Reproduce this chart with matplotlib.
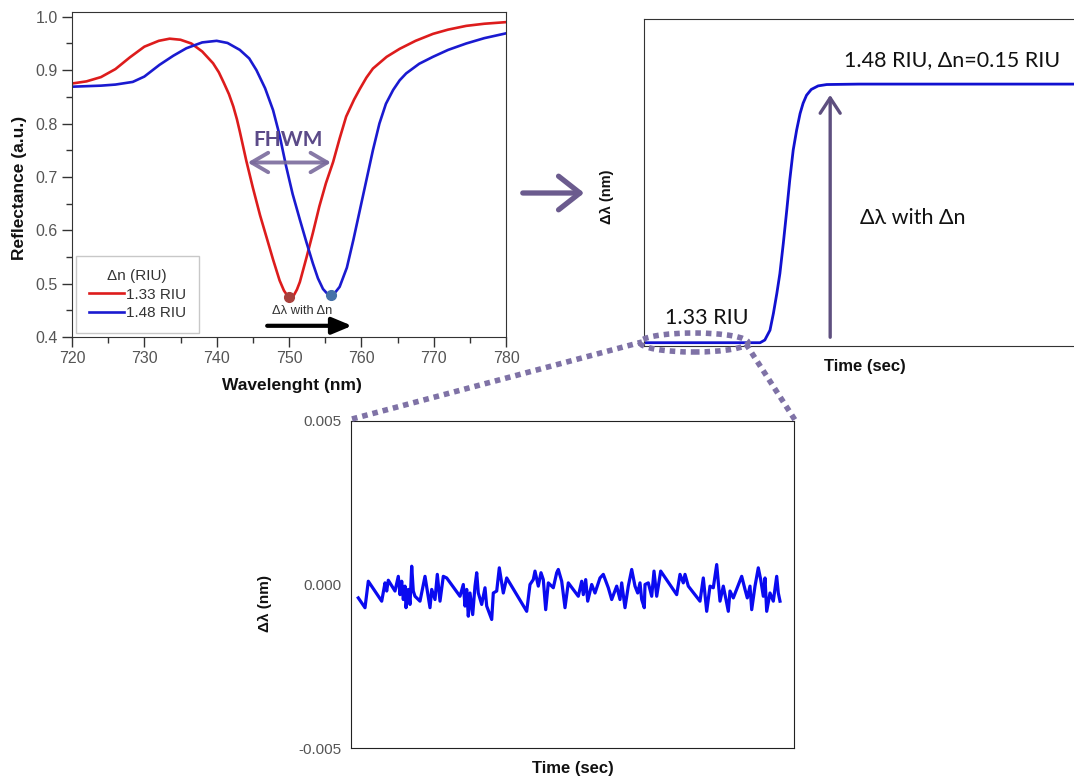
import numpy as np
import matplotlib
matplotlib.use("Agg")
from matplotlib import pyplot as plt
from matplotlib.lines import Line2D
from matplotlib.patches import Ellipse, FancyArrowPatch

plt.rcParams['font.family'] = ['Liberation Sans', 'DejaVu Sans']

# --- reflectance spectra (panel 1) ---
wl_133 = [720, 722, 724, 726, 728, 730, 732, 733.5, 735, 736.5, 738, 739.5, 740.3, 741,
          741.7, 742.3, 742.8, 743.2, 744.1, 745, 746, 747, 747.8, 748.7, 749.3, 749.8,
          750.2, 750.7, 751.1, 751.5, 752.4, 753.3, 754.2, 755.1, 756.1, 757, 757.9, 759,
          759.8, 760.7, 761.6, 763.5, 765.3, 767.5, 769.9, 772, 774.5, 777, 780]
refl_133 = [0.875, 0.879, 0.887, 0.902, 0.924, 0.944, 0.955, 0.959, 0.957, 0.950, 0.935,
            0.913, 0.896, 0.876, 0.855, 0.832, 0.808, 0.785, 0.730, 0.680, 0.628, 0.582,
            0.545, 0.506, 0.487, 0.477, 0.475, 0.479, 0.489, 0.503, 0.548, 0.595, 0.645,
            0.688, 0.728, 0.772, 0.813, 0.845, 0.865, 0.886, 0.903, 0.925, 0.940, 0.955,
            0.968, 0.976, 0.983, 0.987, 0.990]

wl_148 = [720, 722, 724, 726, 728.4, 730, 732.1, 734, 735.8, 738, 740, 741.5, 743.2, 744.5,
          745.5, 746.7, 747.8, 748.7, 749.6, 750.5, 751.5, 752.4, 753.3, 754, 754.7, 755.3,
          755.8, 756.3, 757, 758, 758.9, 759.8, 760.7, 761.6, 762.5, 763.4, 764.4, 765.3,
          766.2, 768, 769.9, 772, 774.5, 777, 780]
refl_148 = [0.869, 0.870, 0.871, 0.873, 0.878, 0.888, 0.910, 0.927, 0.941, 0.952, 0.955,
            0.951, 0.938, 0.922, 0.900, 0.866, 0.825, 0.778, 0.720, 0.668, 0.620, 0.578,
            0.538, 0.510, 0.490, 0.481, 0.479, 0.482, 0.494, 0.530, 0.582, 0.638, 0.694,
            0.750, 0.800, 0.837, 0.863, 0.881, 0.894, 0.912, 0.925, 0.938, 0.950, 0.960,
            0.969]

dip_wl = [750.0, 755.8]
dip_refl = [0.475, 0.478]

# --- sensorgram step (panel 2), arbitrary time units ---
step_t = [0, 10, 20, 27.0, 28.1, 29.3, 30.1, 30.9, 31.6, 32.4, 33.2, 33.9, 34.7, 35.5,
          36.3, 37.0, 37.8, 38.9, 40.5, 42.5, 50, 70, 100]
step_shift = [0, 0, 0, 0, 0.06, 0.28, 0.66, 1.11, 1.55, 2.23, 2.97, 3.65, 4.32, 4.77,
              5.14, 5.37, 5.55, 5.68, 5.76, 5.79, 5.80, 5.80, 5.80]

# --- baseline noise (panel 3), shift in units of 1e-4 nm ---
noise_t = [7.3, 14, 17.3, 30.7, 34, 35.7, 37.3, 44, 47.3, 49, 50.7, 52.3, 54, 55, 57.3, 59,
           60.7, 62.3, 64, 69, 74, 79, 80.7, 84, 86.3, 89, 92.3, 95.7, 109, 112.3, 114,
           115.7, 117.3, 119, 121.7, 124, 125.7, 127.3, 130.7, 134, 135.7, 140.7, 142.3,
           145.7, 148.3, 152.3, 155.7, 175.7, 179, 182.3, 184, 187.3, 190, 192.3, 194.7,
           197.3, 202.3, 205.7, 207.3, 210.7, 214, 217.3, 227.3, 230.7, 232.3, 234.7,
           236.7, 240.7, 244, 249, 252.3, 257.3, 260.7, 265.7, 269, 270.7, 274, 277.3,
           280.7, 284, 286.7, 289, 290.7, 293.3, 294, 297.3, 300.7, 303, 305.7, 309.7,
           325.7, 329, 332.3, 334, 337.3, 349, 352.3, 355.7, 359, 362.3, 365.7, 369, 372.3,
           375, 377.3, 379, 382.3, 390.7, 394, 396.3, 399, 400.7, 404, 407.3, 409.7,
           412.3, 414, 415.7, 419, 422.3, 425.7, 427.3, 429]
noise_v = [-4.1, -7.1, 1.0, -5.1, 0.5, -2.0, 1.3, -2.0, 2.5, -3.1, 1.0, -4.6, -0.5, -7.1,
           -1.5, -6.1, 5.6, -2.0, -3.6, -5.1, 2.5, -7.1, -1.5, -4.6, 3.1, -5.1, 2.5, 2.0,
           -3.6, 0.0, -6.6, -1.5, -9.7, -2.6, -9.2, -0.5, 3.6, -2.6, -6.1, -1.0, -6.6,
           -10.7, -2.6, -2.0, 5.1, -2.6, 2.0, -8.2, 0.0, 1.5, 4.1, -0.5, 3.6, 1.5, -7.7,
           0.5, -1.0, 3.6, 4.6, 1.0, -7.1, 0.5, -3.6, 1.0, -3.1, 1.5, -5.1, 0.0, -2.6, 2.0,
           3.1, -1.0, -4.6, -0.5, -4.6, 0.5, -7.1, -0.5, 4.6, -0.5, -2.6, 0.5, -4.6, -7.1,
           0.0, 0.5, -3.6, 4.1, -3.6, 4.1, -3.1, 3.1, 0.5, 3.1, -0.5, -5.1, 2.0, -8.2,
           -0.5, -1.0, 6.1, -5.1, -0.5, -4.6, -8.2, -2.0, -4.1, 2.5, -1.5, -4.1, -0.5,
           -7.7, -0.5, 5.1, 1.5, -3.6, 2.0, -8.2, -2.6, -5.1, 2.5, -2.6, -5.1]

W, H = 1074, 780
fig = plt.figure(figsize=(W / 100, H / 100), dpi=100)


def px_axes(l, t, r, b):
    return fig.add_axes([l / W, 1 - b / H, (r - l) / W, (b - t) / H])


def fx(x):
    return x / W


def fy(y):
    return 1 - y / H


purple = '#6b5b8e'
dots = '#7f72a6'
tick_grey = '#555555'

# ---------------- panel 1 ----------------
ax1 = px_axes(72, 12, 506, 337)
ax1.plot(wl_133, refl_133, color='#dd1c1c', lw=1.9, label='1.33 RIU')
ax1.plot(wl_148, refl_148, color='#1a1ad0', lw=1.9, label='1.48 RIU')
ax1.plot(dip_wl[0], dip_refl[0], 'o', color='#a8403c', ms=7, zorder=4)
ax1.plot(dip_wl[1], dip_refl[1], 'o', color='#4672a8', ms=7, zorder=4)
ax1.set_xlim(720, 780)
ax1.set_ylim(0.4, 1.009)
ax1.set_xticks(np.arange(720, 781, 10))
ax1.set_xticks(np.arange(725, 780, 10), minor=True)
ax1.set_yticks(np.arange(0.4, 1.01, 0.1))
ax1.set_yticks(np.arange(0.45, 1.0, 0.1), minor=True)
ax1.set_yticklabels(['0.4', '0.5', '0.6', '0.7', '0.8', '0.9', '1.0'])
ax1.tick_params(which='major', direction='out', length=7, width=1, labelsize=11.5,
                labelcolor=tick_grey, color='#333333', pad=3)
ax1.tick_params(which='minor', direction='out', length=4, width=1, color='#333333')
for s in ax1.spines.values():
    s.set_color('#333333')
ax1.text(0.507, -0.148, 'Wavelenght (nm)', transform=ax1.transAxes, ha='center',
         va='center', fontsize=12.5, fontweight='bold', color='#111111')
ax1.text(-0.12, 0.46, 'Reflectance (a.u.)', transform=ax1.transAxes, ha='center',
         va='center', fontsize=12.5, fontweight='bold', rotation=90, color='#111111')
leg = ax1.legend(title='\u0394n (RIU)', loc='lower left', bbox_to_anchor=(0.009, 0.012),
                 fontsize=11, title_fontsize=11, frameon=True, fancybox=False,
                 handlelength=2.3, handletextpad=0.1, borderpad=0.85, labelspacing=0.3,
                 borderaxespad=0)
leg.get_frame().set_edgecolor('#bbbbbb')
leg.get_frame().set_linewidth(1)
for t in leg.get_texts():
    t.set_color('#333333')
leg.get_title().set_color('#333333')

ax1.annotate('', xy=(743.9, 0.727), xytext=(756.2, 0.727),
             arrowprops=dict(arrowstyle='<->, head_length=0.6, head_width=0.35',
                             color='#7a6a9c', lw=2.8, alpha=0.9, mutation_scale=20))
ax1.text(749.9, 0.769, 'FHWM', ha='center', va='center', fontsize=15,
         fontweight='bold', color='#5b4a88', family=['Lato', 'DejaVu Sans'])
ax1.text(751.8, 0.449, '\u0394\u03bb with \u0394n', ha='center', va='center',
         fontsize=9.3, color='#333333')
ax1.annotate('', xy=(759.1, 0.421), xytext=(746.6, 0.421),
             arrowprops=dict(arrowstyle='-|>, head_length=0.6, head_width=0.25',
                             color='black', lw=3, mutation_scale=20))

# ---------------- panel 2 ----------------
ax2 = px_axes(644, 19, 1080, 346)
ax2.plot(step_t, step_shift, color='#1111d0', lw=2)
ax2.set_xlim(0, 101.4)
ax2.set_ylim(-0.074, 7.26)
ax2.set_xticks([])
ax2.set_yticks([])
for s in ax2.spines.values():
    s.set_color('#333333')
ax2.spines['right'].set_visible(False)
ax2.annotate('', xy=(43.3, 5.62), xytext=(43.3, 0.06),
             arrowprops=dict(arrowstyle='->, head_length=0.55, head_width=0.36',
                             color='#5e4f7f', lw=2.4, mutation_scale=20))
lato = ['Lato', 'DejaVu Sans']
ax2.text(46.4, 6.33, '1.48 RIU, \u0394n=0.15 RIU', ha='left', va='center',
         fontsize=15.5, family=lato, color='#111111')
ax2.text(50.2, 2.79, '\u0394\u03bb with \u0394n', ha='left', va='center',
         fontsize=15.5, family=lato, color='#111111')
ax2.text(4.9, 0.55, '1.33 RIU', ha='left', va='center', fontsize=15.5, family=lato,
         color='#111111')
ax2.text(0.507, -0.064, 'Time (sec)', transform=ax2.transAxes, ha='center', va='center',
         fontsize=12, fontweight='bold', color='#111111')
ax2.text(-0.086, 0.456, '\u0394\u03bb (nm)', transform=ax2.transAxes, ha='center',
         va='center', fontsize=10.5, fontweight='bold', rotation=90, color='#111111')

# ---------------- panel 3 ----------------
ax3 = px_axes(351, 421, 794, 748)
ax3.plot(noise_t, np.array(noise_v) * 1e-4, color='#0a0af0', lw=2.3)
ax3.set_xlim(0, 443)
ax3.set_ylim(-0.005, 0.005)
ax3.set_xticks([])
ax3.set_yticks([-0.005, 0.0, 0.005])
ax3.set_yticklabels(['-0.005', '0.000', '0.005'])
ax3.tick_params(length=0, labelsize=11, labelcolor=tick_grey, pad=7)
for s in ax3.spines.values():
    s.set_color('#222222')
ax3.text(0.501, -0.062, 'Time (sec)', transform=ax3.transAxes, ha='center', va='center',
         fontsize=12, fontweight='bold', color='#111111')
ax3.text(-0.194, 0.443, '\u0394\u03bb (nm)', transform=ax3.transAxes, ha='center',
         va='center', fontsize=11, fontweight='bold', rotation=90, color='#111111')

# ---------------- figure-level connectors ----------------
fig.add_artist(FancyArrowPatch((fx(520), fy(193)), (fx(587), fy(193)),
                               transform=fig.transFigure,
                               arrowstyle='->, head_length=0.7, head_width=0.55',
                               mutation_scale=22, color=purple, lw=3.8))
dot_style = (0, (1, 0.9))
fig.add_artist(Line2D([fx(352), fx(642)], [fy(419), fy(342)], transform=fig.transFigure,
                      color=dots, lw=4, ls=dot_style, dash_capstyle='butt'))
fig.add_artist(Line2D([fx(746), fx(795)], [fy(344), fy(420)], transform=fig.transFigure,
                      color=dots, lw=4, ls=dot_style, dash_capstyle='butt'))
fig.add_artist(Ellipse((fx(694), fy(342.5)), 108 / W, 19 / H, transform=fig.transFigure,
                       fill=False, edgecolor=dots, lw=4, ls=dot_style))

fig.savefig('out.png', dpi=100)
